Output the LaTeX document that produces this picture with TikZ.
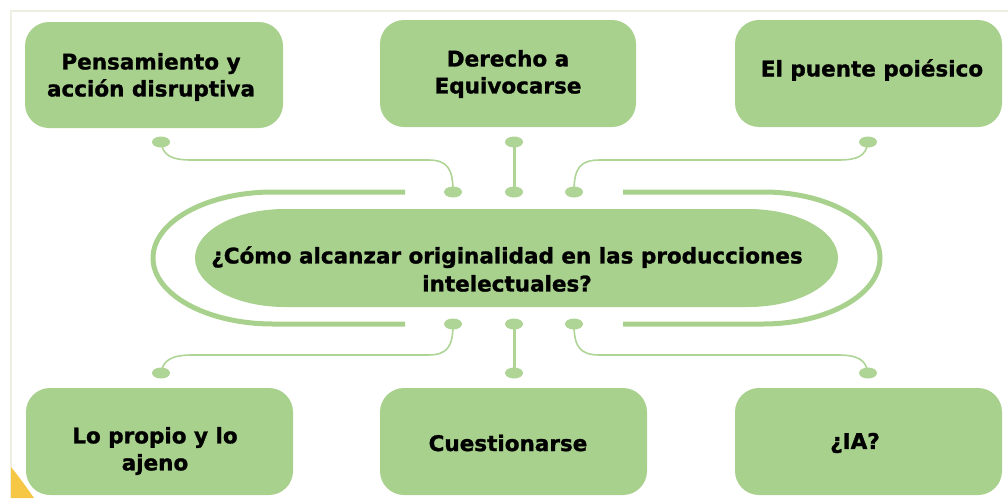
\documentclass[tikz,border=0pt]{standalone}
\usepackage{fontspec}
\setmainfont[BoldFeatures={FakeBold=1.3}]{DejaVu Sans}
\usetikzlibrary{shapes.geometric}
\definecolor{gbox}{HTML}{A9D18E}
\definecolor{gline}{HTML}{AED496}
\definecolor{frame}{HTML}{EEEFE2}
\definecolor{ycorner}{HTML}{F6C744}
\begin{document}
\begin{tikzpicture}[x=1pt,y=-1pt,
  box/.style={fill=gbox, draw=none, rounded corners=24pt, inner sep=0pt},
  lbl/.style={font=\bfseries\fontsize{21.5}{27}\selectfont, align=center, inner sep=0pt, text=black},
  dot/.style={ellipse, fill=gline, draw=none, minimum width=18pt, minimum height=11pt, inner sep=0pt},
  conn/.style={draw=gline, line width=1.6pt},
  stem/.style={draw=gline, line width=3pt},
  ring/.style={draw=gbox, line width=5pt}]
\useasboundingbox (0,0) rectangle (1008,498);
% frame
\draw[frame, line width=1.5pt] (11,498) -- (11,11) -- (1008,11);
\fill[ycorner] (11,467) .. controls (20,478) and (27,488) .. (34,498) -- (11,498) -- cycle;

% outer boxes
\path[box] (25,22) rectangle (283,128);
\path[box] (380,20) rectangle (636,127);
\path[box] (735,20) rectangle (1002,127);
\path[box] (26,388) rectangle (293,495);
\path[box] (380,388) rectangle (647,495);
\path[box] (735,388) rectangle (1002,495);

\node[lbl] (tPens) at (151,77) {Pensamiento y\\acción disruptiva};
\node[lbl] (tDer) at (508,74) {Derecho a\\Equivocarse};
\node[lbl] (tPuente) at (872,70) {El puente poiésico};
\node[lbl] (tProp) at (155,451) {Lo propio y lo\\ajeno};
\node[lbl] (tCues) at (508,443) {Cuestionarse};
\node[lbl] (tIA) at (855,443) {¿IA?};

% outer ring brackets
\draw[ring] (405,192) -- (273,192) arc[start angle=90, end angle=270, x radius=120pt, y radius=66pt] -- (405,324);
\draw[ring] (623,192) -- (763,192) arc[start angle=90, end angle=-90, x radius=117pt, y radius=66pt] -- (623,324);

% central shape
\fill[gbox] (285,209) -- (748,209) arc[start angle=90, end angle=-90, x radius=90pt, y radius=49pt]
  -- (285,307) arc[start angle=270, end angle=90, x radius=90pt, y radius=49pt] -- cycle;
\node[lbl, font=\bfseries\fontsize{21.5}{28}\selectfont] (center) at (507,269) {¿Cómo alcanzar originalidad en las producciones\\intelectuales?};

% dots
\node[dot] (a1) at (161,142) {};
\node[dot] (a2) at (453,192) {};
\node[dot] (b1) at (514,142) {};
\node[dot] (b2) at (514,192) {};
\node[dot] (c1) at (868,142) {};
\node[dot] (c2) at (574,192) {};
\node[dot] (d1) at (453,324) {};
\node[dot] (d2) at (161,373) {};
\node[dot] (e1) at (514,324) {};
\node[dot] (e2) at (514,373) {};
\node[dot] (f1) at (574,324) {};
\node[dot] (f2) at (868,373) {};

% connectors
\draw[conn] (a1.center) .. controls (163,156) and (172,160) .. (192,160) -- (428,160)
  .. controls (447,160) and (453,168) .. (a2.center);
\draw[stem] (b1.center) -- (b2.center);
\draw[conn] (c2.center) .. controls (574,168) and (580,160) .. (600,160) -- (838,160)
  .. controls (858,160) and (866,156) .. (c1.center);
\draw[conn] (d1.center) .. controls (453,347) and (447,355) .. (428,355) -- (192,355)
  .. controls (172,355) and (163,360) .. (d2.center);
\draw[stem] (e1.center) -- (e2.center);
\draw[conn] (f1.center) .. controls (574,347) and (580,355) .. (600,355) -- (838,355)
  .. controls (858,355) and (866,360) .. (f2.center);
\end{tikzpicture}
\end{document}
